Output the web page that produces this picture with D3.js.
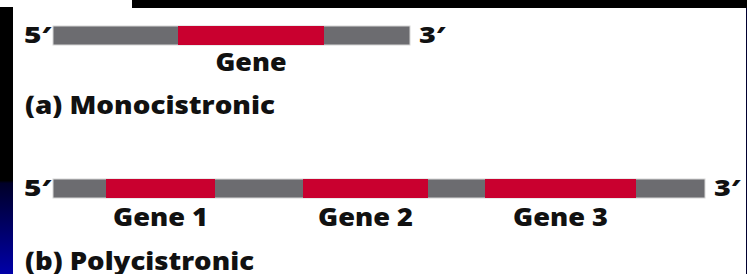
<!DOCTYPE html>
<html>
<head>
<meta charset="utf-8">
<title>Mono vs polycistronic mRNA</title>
<style>
  body { margin: 0; background: #fff; }
  text { font-family: "Open Sans", "DejaVu Sans", sans-serif; font-weight: 800; fill: #111; }
</style>
</head>
<body>
<div id="chart"></div>
<script src="https://cdnjs.cloudflare.com/ajax/libs/d3/7.8.5/d3.min.js"></script>
<script>
// mRNA lengths (arbitrary units along the molecule)
var monoLength = 357;
var polyLength = 652;

// coding regions: names, starts, ends
var monoGenes = ['Gene'];
var monoStarts = [125];
var monoEnds = [271];

var polyGenes = ['Gene 1', 'Gene 2', 'Gene 3'];
var polyStarts = [53, 250, 432];
var polyEnds = [162, 375, 583];

var panelTitles = ['(a) Monocistronic', '(b) Polycistronic'];
var endLabels = ['5\u2032', '3\u2032'];

var w = 747, h = 274;
var barH = 19;
var grey = '#6c6c70', red = '#c9002f';

var svg = d3.select('#chart').append('svg')
    .attr('width', w)
    .attr('height', h);

// slide frame: black bar on top, dark strip on the left
var defs = svg.append('defs');
var grad = defs.append('linearGradient')
    .attr('id', 'strip')
    .attr('x1', 0).attr('y1', 0).attr('x2', 0).attr('y2', 1);
grad.append('stop').attr('offset', '0%').attr('stop-color', '#000');
grad.append('stop').attr('offset', '65%').attr('stop-color', '#000');
grad.append('stop').attr('offset', '66%').attr('stop-color', '#000028');
grad.append('stop').attr('offset', '100%').attr('stop-color', '#0000a8');

svg.append('rect').attr('x', 132).attr('y', 0).attr('width', w - 132).attr('height', 8).attr('fill', '#000');
svg.append('rect').attr('x', 0).attr('y', 7).attr('width', 13).attr('height', h - 7).attr('fill', 'url(#strip)');
svg.append('rect').attr('x', w - 1).attr('y', 8).attr('width', 1).attr('height', h - 8).attr('fill', '#000030');

var x = d3.scaleLinear()
    .domain([0, polyLength])
    .range([53, 705]);

// keep a label to a measured width (reference font is wider than ours)
function fitWidth(sel, px) {
  sel.attr('textLength', px).attr('lengthAdjust', 'spacingAndGlyphs');
}

var rows = [
  { len: monoLength, names: monoGenes, starts: monoStarts, ends: monoEnds, top: 26, labelY: 71, titleY: 114, titleW: 250 },
  { len: polyLength, names: polyGenes, starts: polyStarts, ends: polyEnds, top: 179, labelY: 226, titleY: 270, titleW: 229 }
];

rows.forEach(function (r, i) {
  var g = svg.append('g');

  // whole mRNA in grey
  g.append('rect')
    .attr('x', x(0))
    .attr('y', r.top)
    .attr('width', x(r.len) - x(0))
    .attr('height', barH)
    .attr('fill', grey)
    .attr('stroke', '#d6d6d6')
    .attr('stroke-width', 1);

  var genes = r.names.map(function (n, j) {
    return { name: n, start: r.starts[j], end: r.ends[j] };
  });

  g.selectAll('rect.gene')
    .data(genes)
    .enter().append('rect')
    .attr('class', 'gene')
    .attr('x', function (d) { return x(d.start); })
    .attr('y', r.top)
    .attr('width', function (d) { return x(d.end) - x(d.start); })
    .attr('height', barH)
    .attr('fill', red);

  g.selectAll('text.gene')
    .data(genes)
    .enter().append('text')
    .attr('class', 'gene')
    .attr('x', function (d) { return x((d.start + d.end) / 2); })
    .attr('y', r.labelY)
    .attr('text-anchor', 'middle')
    .attr('font-size', '25px')
    .attr('textLength', function (d) { return d.name.length > 4 ? 95 : 71; })
    .attr('lengthAdjust', 'spacingAndGlyphs')
    .text(function (d) { return d.name; });

  // 5' and 3' ends
  g.append('text')
    .attr('x', x(0) - 2)
    .attr('y', r.top + 17)
    .attr('text-anchor', 'end')
    .attr('font-size', '22px')
    .call(fitWidth, 27)
    .text(endLabels[0]);
  g.append('text')
    .attr('x', x(r.len) + 9)
    .attr('y', r.top + 17)
    .attr('font-size', '22px')
    .call(fitWidth, 26)
    .text(endLabels[1]);

  g.append('text')
    .attr('x', 25)
    .attr('y', r.titleY)
    .attr('font-size', '25px')
    .call(fitWidth, r.titleW)
    .text(panelTitles[i]);
});
</script>
</body>
</html>
